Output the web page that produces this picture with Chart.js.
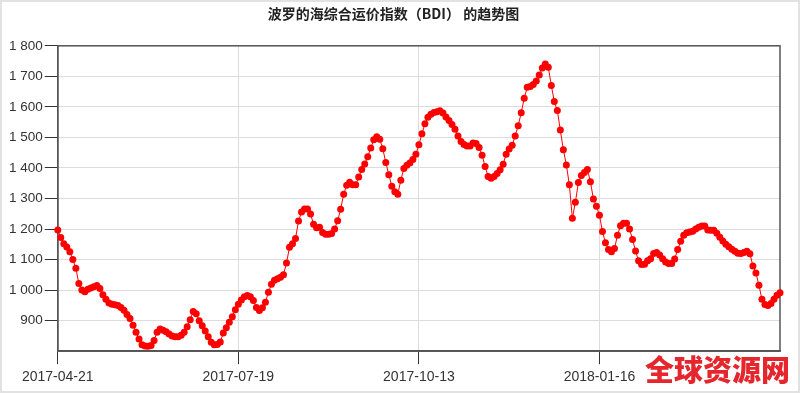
<!DOCTYPE html>
<html>
<head>
<meta charset="utf-8">
<title>BDI</title>
<script src="https://cdn.jsdelivr.net/npm/chart.js@4.4.0/dist/chart.umd.min.js"></script>
<style>
    html, body { margin: 0; padding: 0; background: #fff; }
    #wrap { position: relative; width: 800px; height: 393px; }
    #watermark {
        position: absolute; left: 645px; top: 350px;
        font-family: "Noto Sans CJK SC", sans-serif; font-weight: 900;
        font-size: 29px; line-height: 36px; color: #e5262c; white-space: nowrap;
    }
</style>
</head>
<body>
<div id="wrap">
    <canvas id="chart" width="800" height="393"></canvas>
    <div id="watermark">全球资源网</div>
</div>
<script>
(function() {
    'use strict';

    // chart text
    const chartTitle = '波罗的海综合运价指数（BDI） 的趋势图';

    // x axis: one label every 60 trading days
    const tickLabels = ['2017-04-21', '2017-07-19', '2017-10-13', '2018-01-16'];
    const tickStep = 60;

    // BDI daily close
    const bdiValues = [
        1197, 1172, 1152, 1141, 1126, 1100, 1072, 1022, 1000, 995,
        1003, 1007, 1011, 1015, 1005, 985, 970, 958, 954, 952,
        950, 943, 934, 920, 907, 885, 862, 840, 821, 817,
        816, 819, 835, 862, 873, 869, 864, 856, 850, 847,
        847, 852, 862, 880, 903, 930, 923, 900, 883, 866,
        847, 829, 821, 822, 830, 860, 877, 895, 913, 936,
        954, 968, 978, 982, 978, 966, 943, 933, 942, 960,
        993, 1019, 1032, 1037, 1042, 1050, 1089, 1140, 1152, 1169,
        1226, 1256, 1266, 1266, 1249, 1216, 1204, 1206, 1189, 1183,
        1183, 1185, 1200, 1227, 1265, 1314, 1343, 1353, 1345, 1345,
        1370, 1395, 1413, 1437, 1465, 1492, 1502, 1494, 1463, 1418,
        1378, 1340, 1322, 1314, 1360, 1398, 1409, 1416, 1428, 1445,
        1476, 1512, 1545, 1566, 1576, 1582, 1584, 1587, 1580, 1567,
        1555, 1542, 1527, 1505, 1487, 1477, 1472, 1472, 1482, 1480,
        1467, 1442, 1405, 1372, 1366, 1372, 1382, 1394, 1412, 1445,
        1462, 1474, 1505, 1538, 1581, 1628, 1664, 1667, 1673, 1685,
        1704, 1727, 1740, 1730, 1670, 1618, 1588, 1524, 1460, 1410,
        1345, 1235, 1288, 1352, 1375, 1385, 1395, 1355, 1298, 1275,
        1245, 1192, 1155, 1133, 1126, 1136, 1180, 1211, 1219, 1219,
        1200, 1166, 1128, 1096, 1084, 1085, 1096, 1103, 1120, 1123,
        1115, 1103, 1092, 1087, 1087, 1102, 1133, 1160, 1180, 1188,
        1190, 1193, 1200, 1206, 1210, 1210, 1197, 1196, 1196, 1186,
        1173, 1161, 1150, 1142, 1134, 1127, 1121, 1120, 1123, 1127,
        1119, 1079, 1056, 1016, 970, 953, 950, 956, 970, 983,
        991
    ];

    const categories = bdiValues.map((v, i) => i);

    // draws the dark box round the plot area and a faint page frame
    const framePlugin = {
        id: 'frame',
        beforeDraw(chart) {
            const ctx = chart.ctx;
            ctx.save();
            ctx.fillStyle = '#ffffff';
            ctx.fillRect(0, 0, chart.width, chart.height);
            ctx.strokeStyle = '#e2e2e2';
            ctx.lineWidth = 2;
            ctx.strokeRect(1, 1, chart.width - 2, chart.height - 2);
            ctx.restore();
        },
        beforeDatasetsDraw(chart) {
            const a = chart.chartArea;
            const ctx = chart.ctx;
            ctx.save();
            ctx.strokeStyle = '#555555';
            ctx.lineWidth = 1.5;
            ctx.strokeRect(a.left, a.top, a.right - a.left, a.bottom - a.top);
            ctx.restore();
        }
    };

    function formatThousands(v) {
        if (v < 1000) return String(v);
        const s = String(v);
        return s.slice(0, s.length - 3) + ' ' + s.slice(-3);
    }

    const ctx = document.getElementById('chart').getContext('2d');

    new Chart(ctx, {
        type: 'line',
        data: {
            labels: categories,
            datasets: [{
                label: 'BDI',
                data: bdiValues,
                borderColor: '#ff0000',
                backgroundColor: '#ff0000',
                borderWidth: 1,
                pointRadius: 3.5,
                pointBorderWidth: 0,
                pointBackgroundColor: '#ff0000',
                tension: 0
            }]
        },
        options: {
            responsive: false,
            animation: false,
            layout: {
                padding: { left: 7, right: 20, top: 0, bottom: 2 }
            },
            plugins: {
                legend: { display: false },
                tooltip: { enabled: false },
                title: {
                    display: true,
                    text: chartTitle,
                    color: '#222',
                    font: { family: '"Noto Sans CJK SC", sans-serif', size: 14, weight: 'bold' },
                    padding: { top: 5, bottom: 24 }
                }
            },
            scales: {
                x: {
                    type: 'category',
                    grid: {
                        color: '#dcdcdc',
                        tickColor: '#333',
                        tickLength: 13,
                        drawTicks: true
                    },
                    border: { display: true, color: '#555', width: 1.5 },
                    ticks: {
                        autoSkip: false,
                        maxRotation: 0,
                        color: '#333',
                        padding: 5,
                        font: { family: 'Arial, "Liberation Sans", sans-serif', size: 14 },
                        callback: function(value, index) {
                            if (index % tickStep !== 0) return null;
                            return tickLabels[index / tickStep];
                        }
                    }
                },
                y: {
                    min: 800,
                    max: 1800,
                    grid: {
                        color: '#dcdcdc',
                        tickColor: '#333',
                        tickLength: 13
                    },
                    border: { display: true, color: '#555', width: 1.5 },
                    ticks: {
                        stepSize: 100,
                        color: '#333',
                        padding: 2,
                        font: { family: 'Arial, "Liberation Sans", sans-serif', size: 13.5 },
                        callback: function(value) {
                            if (value === 800) return null;
                            return formatThousands(value);
                        }
                    }
                }
            }
        },
        plugins: [framePlugin]
    });
})();
</script>
</body>
</html>
